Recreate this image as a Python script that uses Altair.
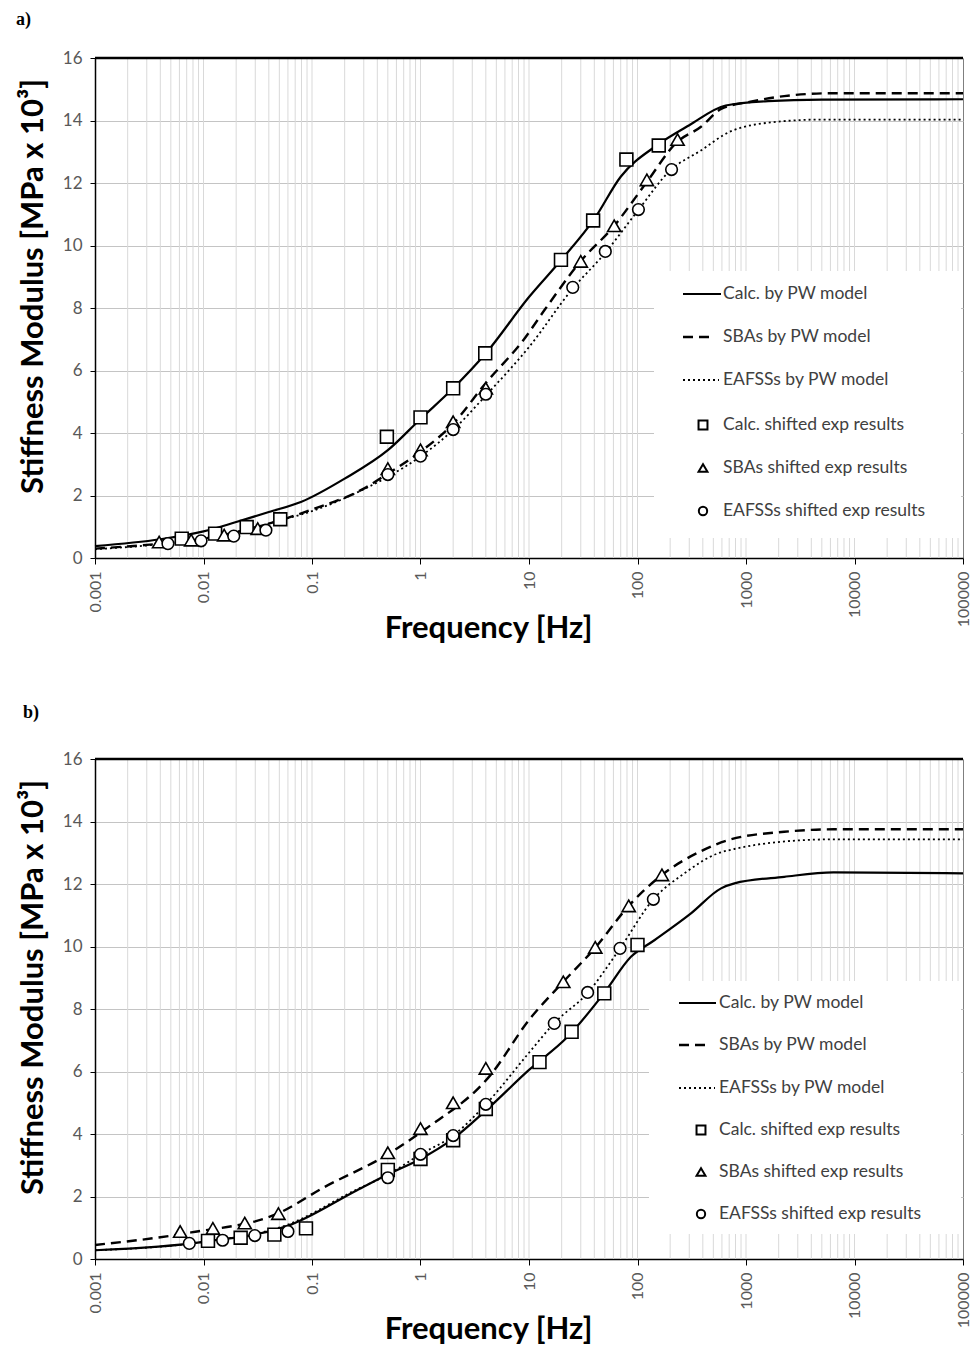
import altair as alt
import pandas as pd

FONT = "Lato"

# ---------------- data ----------------
X_TICKS = [0.001, 0.01, 0.1, 1, 10, 100, 1000, 10000, 100000]
Y_TICKS = [0, 2, 4, 6, 8, 10, 12, 14, 16]
GRID_F = [m * 10.0 ** e for e in range(-3, 5) for m in range(1, 10)][1:]

LEGEND_LABELS = ["Calc. by PW model", "SBAs by PW model", "EAFSSs by PW model",
                 "Calc. shifted exp results", "SBAs shifted exp results",
                 "EAFSSs shifted exp results"]

# panel a) model curves
A_CALC_LINE_F = [0.001, 0.004, 0.01, 0.02, 0.04, 0.08, 0.2, 0.5, 1, 2, 4, 10, 20, 40, 70, 150, 300, 650, 1600, 5000, 100000]
A_CALC_LINE_E = [0.38, 0.6, 0.85, 1.15, 1.47, 1.8, 2.54, 3.45, 4.45, 5.43, 6.55, 8.35, 9.55, 10.85, 12.2, 13.2, 13.85, 14.48, 14.62, 14.67, 14.68]
A_SBA_LINE_F = [0.001, 0.003, 0.01, 0.05, 0.1, 0.3, 0.5, 1, 2, 4, 9, 14, 30, 60, 120, 230, 385, 590, 1100, 2250, 6000, 100000]
A_SBA_LINE_E = [0.3, 0.42, 0.62, 1.2, 1.55, 2.22, 2.7, 3.4, 4.3, 5.6, 7.0, 7.95, 9.5, 10.6, 12.0, 13.3, 13.8, 14.37, 14.6, 14.78, 14.87, 14.87]
A_EAF_LINE_F = [0.001, 0.003, 0.01, 0.05, 0.1, 0.3, 0.5, 1, 2, 4, 10, 25, 50, 100, 200, 384, 730, 1950, 4900, 100000]
A_EAF_LINE_E = [0.28, 0.4, 0.6, 1.2, 1.5, 2.2, 2.6, 3.25, 4.1, 5.2, 6.75, 8.6, 9.75, 11.1, 12.4, 13.04, 13.66, 13.96, 14.03, 14.03]
# panel a) shifted experimental results
A_CALC_PTS_F = [0.0063, 0.0128, 0.025, 0.051, 0.49, 1.0, 2.0, 3.95, 19.7, 39, 79, 157]
A_CALC_PTS_E = [0.62, 0.78, 0.99, 1.24, 3.88, 4.5, 5.43, 6.55, 9.54, 10.8, 12.75, 13.2]
A_SBA_PTS_F = [0.0039, 0.0077, 0.0155, 0.0316, 0.5, 1.0, 2.0, 4.0, 30, 61, 122, 234]
A_SBA_PTS_E = [0.51, 0.57, 0.73, 0.94, 2.86, 3.46, 4.36, 5.43, 9.49, 10.63, 12.1, 13.39]
A_EAF_PTS_F = [0.0047, 0.0095, 0.019, 0.0376, 0.5, 1.0, 2.0, 4.0, 25.3, 50.5, 102, 206]
A_EAF_PTS_E = [0.46, 0.55, 0.7, 0.89, 2.67, 3.26, 4.11, 5.24, 8.66, 9.81, 11.15, 12.43]

# panel b) model curves
B_CALC_LINE_F = [0.001, 0.01, 0.064, 0.26, 0.53, 1, 2, 4, 10, 22.7, 49, 87, 143, 311, 589, 782, 2250, 6400, 100000]
B_CALC_LINE_E = [0.28, 0.55, 1.1, 2.2, 2.75, 3.2, 3.85, 4.75, 6.05, 7.11, 8.5, 9.67, 10.2, 11.06, 11.86, 12.02, 12.23, 12.37, 12.34]
B_SBA_LINE_F = [0.001, 0.0077, 0.048, 0.13, 0.5, 1.1, 4.45, 10, 20.7, 41, 83, 168, 384, 728, 2250, 6400, 100000]
B_SBA_LINE_E = [0.45, 0.85, 1.45, 2.3, 3.35, 4.15, 5.9, 7.65, 8.87, 9.97, 11.3, 12.29, 13.05, 13.43, 13.67, 13.75, 13.75]
B_EAF_LINE_F = [0.001, 0.01, 0.06, 0.25, 0.5, 1, 2, 4, 10, 17, 35, 69, 140, 270, 550, 782, 1950, 6400, 100000]
B_EAF_LINE_E = [0.28, 0.55, 1.1, 2.2, 2.7, 3.35, 3.95, 4.95, 6.6, 7.54, 8.53, 9.94, 11.51, 12.34, 12.98, 13.12, 13.34, 13.43, 13.43]
# panel b) shifted experimental results
B_CALC_PTS_F = [0.011, 0.022, 0.045, 0.088, 0.5, 1.0, 2.0, 4.0, 12.5, 24.7, 49.4, 100]
B_CALC_PTS_E = [0.58, 0.68, 0.78, 0.98, 2.85, 3.2, 3.8, 4.8, 6.3, 7.27, 8.5, 10.05]
B_SBA_PTS_F = [0.0061, 0.0122, 0.024, 0.049, 0.5, 1.0, 2.0, 4.0, 20.7, 40.8, 83, 168]
B_SBA_PTS_E = [0.88, 0.98, 1.15, 1.45, 3.4, 4.17, 5.0, 6.1, 8.87, 9.97, 11.3, 12.29]
B_EAF_PTS_F = [0.0074, 0.015, 0.0297, 0.06, 0.5, 1.0, 2.0, 4.0, 17.1, 34.7, 69, 140]
B_EAF_PTS_E = [0.5, 0.6, 0.75, 0.88, 2.6, 3.35, 3.95, 4.95, 7.54, 8.53, 9.94, 11.51]

# ---------------- styling ----------------
W, H = 868, 500
XS = alt.Scale(type="log", domain=[0.001, 100000], nice=False)
YS = alt.Scale(domain=[0, 16], nice=False)

XAX = alt.Axis(values=X_TICKS, format="~g", labelAngle=-90, labelFontSize=16,
               labelColor="#595959", labelPadding=7, tickSize=6, tickColor="#000000",
               domainColor="#000000", domainWidth=1.5, grid=False, labelFlush=False,
               labelOverlap=False, title="Frequency [Hz]", titleFontSize=31,
               titleFontWeight="bold", titleColor="#000000", titleX=393, titleY=70,
               titleBaseline="middle", titleAlign="center")
YAX = alt.Axis(values=Y_TICKS, labelFontSize=17, labelColor="#595959", labelPadding=8,
               tickSize=5, tickColor="#000000", domainColor="#000000", domainWidth=1.5,
               grid=True, gridColor="#c4c4c4", gridWidth=1,
               title="Stiffness Modulus [MPa x 10³]", titleFontSize=31,
               titleFontWeight="bold", titleColor="#000000", titleX=-62, titleY=228,
               titleAngle=270, titleBaseline="middle", titleAlign="center")

LINE_STYLES = [dict(strokeWidth=2.2), dict(strokeWidth=2.4, strokeDash=[10, 6]),
               dict(strokeWidth=1.8, strokeDash=[2, 3])]
SHAPES = ["square", "triangle-up", "circle"]
SIZES = [165, 175, 135]
LEG_SIZES = [80, 80, 70]


def xenc():
    return alt.X("f:Q", scale=XS, axis=XAX)


def yenc():
    return alt.Y("E:Q", scale=YS, axis=YAX)


def one():
    return alt.Chart(pd.DataFrame({"k": [0]}))


def panel(tag, lines, pts, leg):
    layers = []
    layers.append(alt.Chart(pd.DataFrame({"f": GRID_F})).mark_rule(
        color="#d9d9d9", strokeWidth=1).encode(x=xenc()))
    # legend box (white) covering the grid
    layers.append(one().mark_rect(color="white").encode(
        x=alt.value(leg["box"][0]), x2=alt.value(leg["box"][1]),
        y=alt.value(leg["box"][2]), y2=alt.value(leg["box"][3])))
    for (f, e), st in zip(lines, LINE_STYLES):
        layers.append(alt.Chart(pd.DataFrame({"f": f, "E": e})).mark_line(
            color="black", interpolate="monotone", **st).encode(x=xenc(), y=yenc()))
    for (f, e), sh, sz in zip(pts, SHAPES, SIZES):
        layers.append(alt.Chart(pd.DataFrame({"f": f, "E": e})).mark_point(
            shape=sh, size=sz, filled=True, fill="white", stroke="black",
            strokeWidth=1.6, opacity=1).encode(x=xenc(), y=yenc()))
    # top border
    layers.append(one().mark_rule(color="black", strokeWidth=2.5).encode(
        x=alt.value(0), x2=alt.value(W), y=alt.value(0)))
    # legend entries
    rows = leg["rows"]
    for i, st in enumerate(LINE_STYLES):
        layers.append(one().mark_rule(color="black", **st).encode(
            x=alt.value(leg["sx"][i][0]), x2=alt.value(leg["sx"][i][1]),
            y=alt.value(rows[i])))
    for i, (sh, sz) in enumerate(zip(SHAPES, LEG_SIZES)):
        layers.append(one().mark_point(
            shape=sh, size=sz, filled=True, fill="white", stroke="black",
            strokeWidth=2, opacity=1).encode(
            x=alt.value(leg["mx"]), y=alt.value(rows[3 + i])))
    for i, lab in enumerate(LEGEND_LABELS):
        layers.append(one().mark_text(
            text=lab, align="left", baseline="middle", font=FONT, fontSize=17.5,
            color="#404040").encode(x=alt.value(leg["tx"]), y=alt.value(rows[i])))
    # panel tag
    layers.append(one().mark_text(
        text=tag, align="left", baseline="top", font="Liberation Serif",
        fontWeight="bold", fontSize=18, color="black").encode(
        x=alt.value(leg["tag"][0]), y=alt.value(leg["tag"][1])))
    return alt.layer(*layers).properties(width=W, height=H)


LEG_A = dict(box=[559, 866, 213, 480], rows=[236, 279, 322, 367, 410, 453],
             sx=[(588, 626), (588, 620), (588, 624)], mx=608, tx=628, tag=(-79, -47))
LEG_B = dict(box=[554, 866, 222, 475], rows=[244, 286, 329, 371, 413, 455],
             sx=[(584, 621), (584, 616), (584, 620)], mx=606, tx=624, tag=(-72, -55))

pa = panel("a)",
           [(A_CALC_LINE_F, A_CALC_LINE_E), (A_SBA_LINE_F, A_SBA_LINE_E), (A_EAF_LINE_F, A_EAF_LINE_E)],
           [(A_CALC_PTS_F, A_CALC_PTS_E), (A_SBA_PTS_F, A_SBA_PTS_E), (A_EAF_PTS_F, A_EAF_PTS_E)],
           LEG_A)
pb = panel("b)",
           [(B_CALC_LINE_F, B_CALC_LINE_E), (B_SBA_LINE_F, B_SBA_LINE_E), (B_EAF_LINE_F, B_EAF_LINE_E)],
           [(B_CALC_PTS_F, B_CALC_PTS_E), (B_SBA_PTS_F, B_SBA_PTS_E), (B_EAF_PTS_F, B_EAF_PTS_E)],
           LEG_B)

chart = alt.vconcat(pa, pb, spacing=201, bounds="flush").properties(
    padding={"left": 15, "top": 10, "right": 0, "bottom": 0}
).configure_view(stroke="#7f7f7f", strokeWidth=1).configure_axis(
    labelFont=FONT, titleFont=FONT)

chart.save("out.html", embed_options={"renderer": "svg", "actions": False})
